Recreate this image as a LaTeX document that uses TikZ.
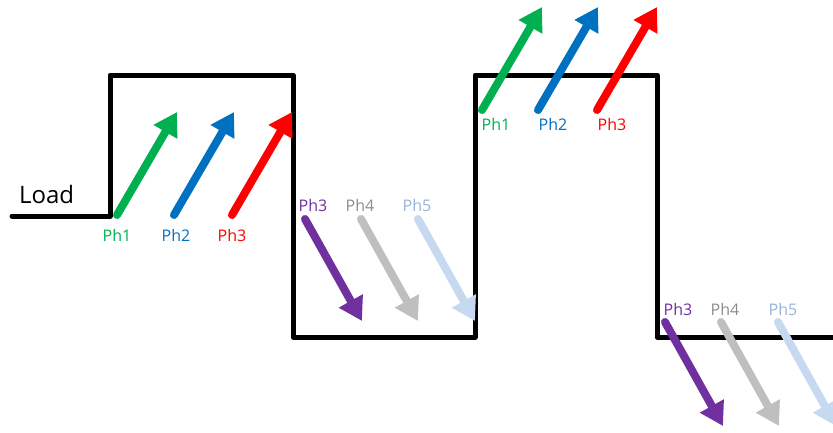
\documentclass[tikz,border=0pt]{standalone}
\usepackage{fontspec}
\setmainfont{Open Sans}
\usetikzlibrary{arrows.meta}
\definecolor{cgreen}{HTML}{00B050}
\definecolor{cblue}{HTML}{0070C0}
\definecolor{cred}{HTML}{FF0000}
\definecolor{cpurple}{HTML}{7030A0}
\definecolor{cgray}{HTML}{BFBFBF}
\definecolor{cgraytxt}{HTML}{8C8C8C}
\definecolor{clblue}{HTML}{C6D9F1}
\definecolor{clbluetxt}{HTML}{95B3D7}
\tikzset{
  wave/.style={line width=5pt, line join=round, line cap=round, black},
  phase/.style={line width=8pt, line cap=round, -{Triangle[length=23pt,width=26pt]}},
  plabel/.style={font=\fontsize{16}{16}\selectfont, anchor=base, inner sep=0pt},
  loadlabel/.style={font=\fontsize{24}{24}\selectfont, anchor=base west, inner sep=0pt},
}
\begin{document}
\begin{tikzpicture}[x=1pt,y=-1pt]
\useasboundingbox (0,0) rectangle (833,432);
\clip (0,0) rectangle (833,432);
% square wave
\coordinate (w0) at (12,216);
\coordinate (w1) at (110,216);
\coordinate (w2) at (110,75);
\coordinate (w3) at (293,75);
\coordinate (w4) at (293,337);
\coordinate (w5) at (475,337);
\coordinate (w6) at (475,75);
\coordinate (w7) at (657,75);
\coordinate (w8) at (657,337);
\coordinate (w9) at (840,337);
\draw[wave] (w0) -- (w1) -- (w2) -- (w3) -- (w4) -- (w5) -- (w6) -- (w7) -- (w8) -- (w9);
\node[loadlabel] (load) at (19,203) {Load};
% group 1
\coordinate (a1s) at (117,215); \coordinate (a1e) at (177,112);
\coordinate (a2s) at (174,215); \coordinate (a2e) at (234,112);
\coordinate (a3s) at (232,215); \coordinate (a3e) at (292,112);
\draw[phase, cgreen] (a1s) -- (a1e);
\draw[phase, cblue] (a2s) -- (a2e);
\draw[phase, cred] (a3s) -- (a3e);
\node[plabel, text=cgreen] (l1) at (117,241) {Ph1};
\node[plabel, text=cblue] (l2) at (176,241) {Ph2};
\node[plabel, text=cred] (l3) at (232,241) {Ph3};
% group 2
\coordinate (b1s) at (305,219); \coordinate (b1e) at (362,321);
\coordinate (b2s) at (361,219); \coordinate (b2e) at (418,321);
\coordinate (b3s) at (418,219); \coordinate (b3e) at (475,321);
\draw[phase, cpurple] (b1s) -- (b1e);
\draw[phase, cgray] (b2s) -- (b2e);
\draw[phase, clblue] (b3s) -- (b3e);
\node[plabel, text=cpurple] (m1) at (313,211) {Ph3};
\node[plabel, text=cgraytxt] (m2) at (360,211) {Ph4};
\node[plabel, text=clbluetxt] (m3) at (417,211) {Ph5};
% group 3
\coordinate (c1s) at (482,110); \coordinate (c1e) at (542,7);
\coordinate (c2s) at (538,110); \coordinate (c2e) at (598,7);
\coordinate (c3s) at (597,110); \coordinate (c3e) at (657,7);
\draw[phase, cgreen] (c1s) -- (c1e);
\draw[phase, cblue] (c2s) -- (c2e);
\draw[phase, cred] (c3s) -- (c3e);
\node[plabel, text=cgreen] (n1) at (496,130) {Ph1};
\node[plabel, text=cblue] (n2) at (553,130) {Ph2};
\node[plabel, text=cred] (n3) at (612,130) {Ph3};
% group 4
\coordinate (d1s) at (665,322); \coordinate (d1e) at (723,426);
\coordinate (d2s) at (721,322); \coordinate (d2e) at (779,426);
\coordinate (d3s) at (778,322); \coordinate (d3e) at (836,426);
\draw[phase, cpurple] (d1s) -- (d1e);
\draw[phase, cgray] (d2s) -- (d2e);
\draw[phase, clblue] (d3s) -- (d3e);
\node[plabel, text=cpurple] (o1) at (678,315) {Ph3};
\node[plabel, text=cgraytxt] (o2) at (725,315) {Ph4};
\node[plabel, text=clbluetxt] (o3) at (783,315) {Ph5};
\end{tikzpicture}
\end{document}
